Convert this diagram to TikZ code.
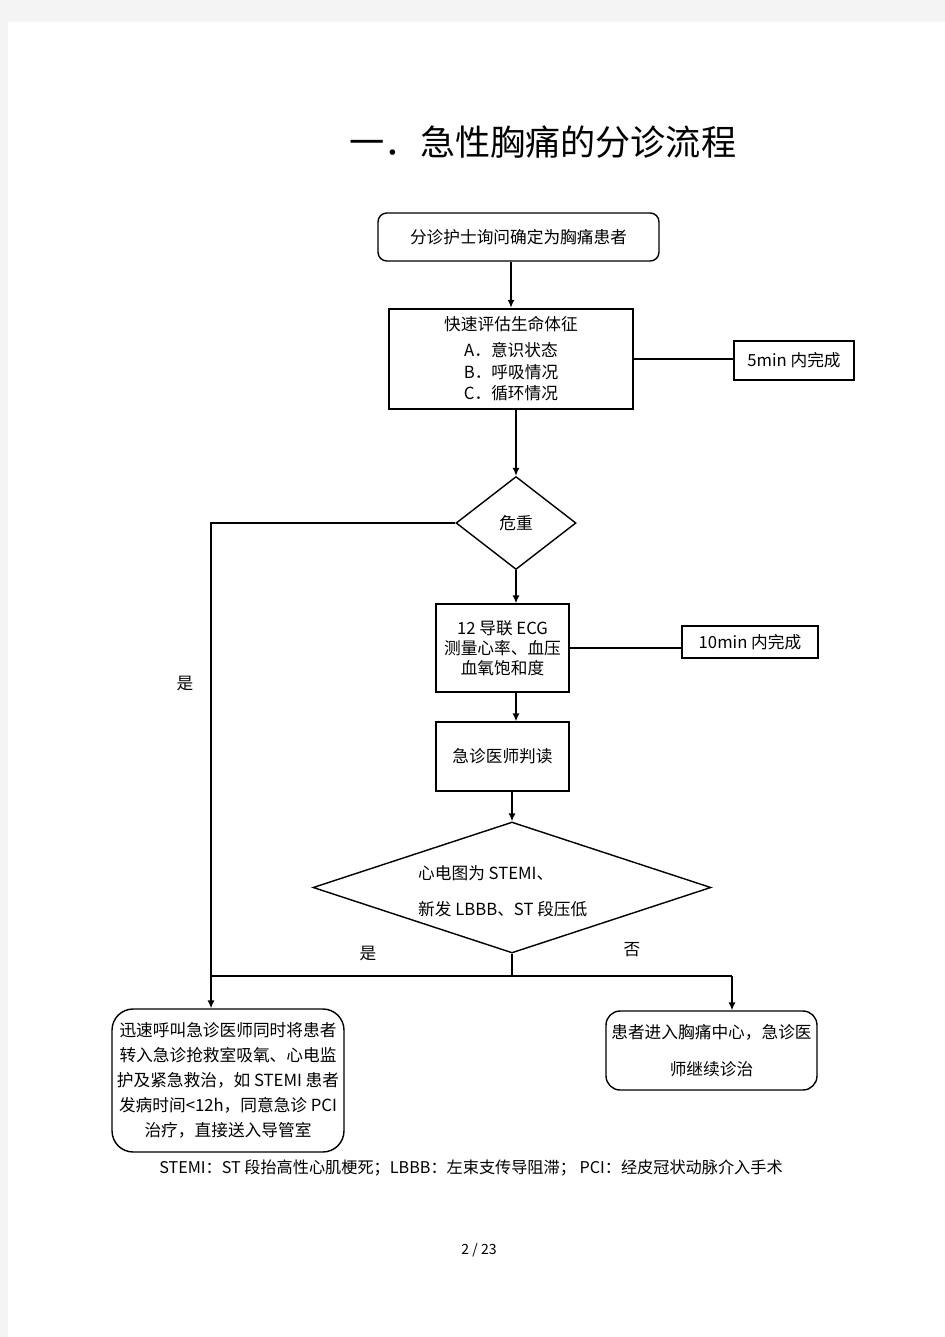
\documentclass[tikz,border=0pt]{standalone}
\usepackage{fontspec}
\setmainfont{Noto Sans CJK SC}
\usetikzlibrary{arrows.meta,positioning,shapes.geometric}
\definecolor{pagegray}{HTML}{F4F4F4}

\tikzset{
  box/.style={draw, line width=0.8pt, inner sep=0pt, align=center},
  thickbox/.style={box, line width=1.4pt},
  roundbox/.style={box, rounded corners=#1},
  decision/.style={draw, shape=diamond, line width=0.8pt, inner sep=0pt, aspect=1},
  link/.style={line width=0.8pt},
  arrow/.style={link, -{Latex[length=4.5pt,width=4pt]}}
}

\begin{document}
\begin{tikzpicture}[x=0.02cm, y=-0.02cm, font=\fontsize{9.5pt}{13pt}\selectfont]
% page
\fill[pagegray] (0,0) rectangle (945,1337);
\fill[white] (8,22) rectangle (945,1337);
\useasboundingbox (0,0) rectangle (945,1337);

\node[font=\fontsize{20pt}{24pt}\selectfont] (title) at (543,142) {一．急性胸痛的分诊流程};

% boxes
\node[roundbox=5pt, minimum width=5.62cm, minimum height=0.96cm] (triage) at (518.5,237) {分诊护士询问确定为胸痛患者};
\node[thickbox, minimum width=4.88cm, minimum height=2.0cm, font=\fontsize{9.5pt}{12.3pt}\selectfont] (assess) at (511,359)
  {快速评估生命体征\\[2.5pt] A．意识状态\\ B．呼吸情况\\ C．循环情况};
\node[box, minimum width=2.4cm, minimum height=0.78cm] (fivemin) at (794,360.5) {5min 内完成};
\node[decision, minimum width=2.4cm, minimum height=1.86cm] (crit) at (516,523) {危重};
\node[box, minimum width=2.66cm, minimum height=1.76cm, font=\fontsize{9.5pt}{11.5pt}\selectfont] (ecg) at (502.5,648)
  {12 导联 ECG\\ 测量心率、血压\\ 血氧饱和度};
\node[thickbox, line width=1.1pt, minimum width=2.72cm, minimum height=0.64cm] (tenmin) at (750,642) {10min 内完成};
\node[box, minimum width=2.66cm, minimum height=1.38cm] (read) at (502.5,756.5) {急诊医师判读};
\node[decision, minimum width=7.96cm, minimum height=2.62cm] (stemi) at (512,887.5) {};
\node[align=left, anchor=west, font=\fontsize{9.5pt}{20.5pt}\selectfont] (stemitext) at (412,891)
  {心电图为 STEMI、\\ 新发 LBBB、ST 段压低};
\node[roundbox=12pt, minimum width=4.64cm, minimum height=2.86cm, font=\fontsize{9.5pt}{14.2pt}\selectfont] (rescue) at (228,1080.5)
  {迅速呼叫急诊医师同时将患者\\ 转入急诊抢救室吸氧、心电监\\ 护及紧急救治，如 STEMI 患者\\ 发病时间<12h，同意急诊 PCI\\ 治疗，直接送入导管室};
\node[roundbox=8pt, minimum width=4.22cm, minimum height=1.58cm, font=\fontsize{9.5pt}{21pt}\selectfont] (cont) at (711.5,1050.5)
  {患者进入胸痛中心，急诊医\\ 师继续诊治};

% labels
\node (yesa) at (185,684) {是};
\node (yesb) at (368,953) {是};
\node (nob) at (632,950) {否};
\node[font=\fontsize{9.2pt}{11pt}\selectfont] (note) at (471,1168)
  {STEMI：ST 段抬高性心肌梗死；LBBB：左束支传导阻滞；\ PCI：经皮冠状动脉介入手术};
\node[font=\fontsize{8pt}{10pt}\selectfont] (pageno) at (479,1250) {2 / 23};

% connectors
\coordinate (yesturn) at (211,520);
\coordinate (join) at (512,976);
\coordinate (noturn) at (732,976);
\draw[arrow] (assess.north |- triage.south) -- (assess.north);
\draw[link] (assess.east) -- (assess.east -| fivemin.west);
\draw[arrow] (crit.north |- assess.south) -- (crit.north);
\draw[arrow] (crit.west) -- (crit.west -| yesturn) -- (yesturn |- rescue.north);
\draw[arrow] (crit.south) -- (crit.south |- ecg.north);
\draw[link] (ecg.east) -- (ecg.east -| tenmin.west);
\draw[arrow] (crit.south |- ecg.south) -- (crit.south |- read.north);
\draw[arrow] (stemi.north |- read.south) -- (stemi.north);
\draw[link] (stemi.south) -- (join);
\draw[link] (yesturn |- join) -- (noturn);
\draw[arrow] (noturn) -- (noturn |- cont.north);
\end{tikzpicture}
\end{document}
